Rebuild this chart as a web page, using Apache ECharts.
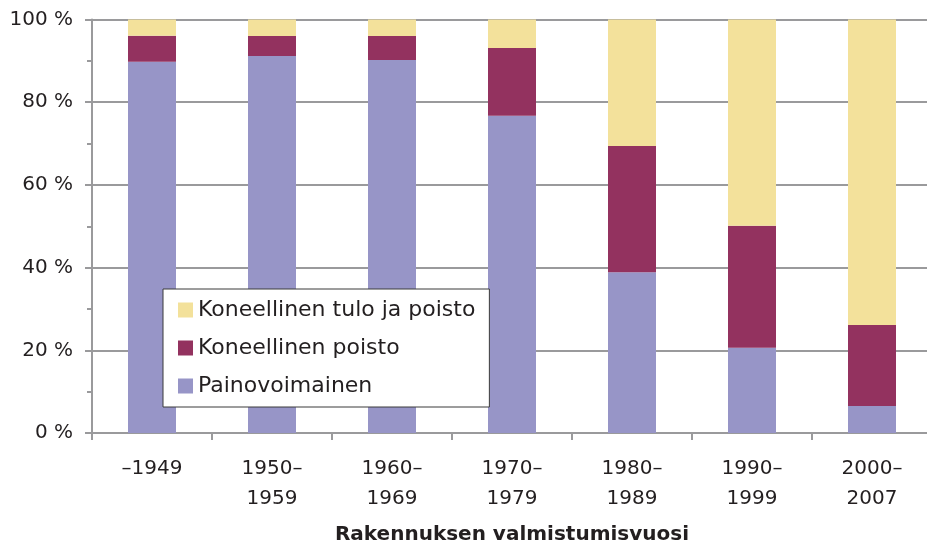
<!DOCTYPE html>
<html>
<head>
<meta charset="utf-8">
<script src="https://cdn.jsdelivr.net/npm/echarts@6/dist/echarts.min.js"></script>
<style>
  html, body { margin: 0; padding: 0; background: #fff; }
  #chart { width: 927px; height: 551px; }
</style>
</head>
<body>
<div id="chart"></div>
<script>
// rakennuksen valmistumisvuosi
const categories = ['–1949', '1950–\n1959', '1960–\n1969', '1970–\n1979', '1980–\n1989', '1990–\n1999', '2000–\n2007']

// osuudet (%), alhaalta ylös
const painovoimainen = [89.8, 91.2, 90.2, 76.7, 38.9, 20.6, 6.5]
const koneellinenPoisto = [6.3, 4.8, 5.8, 16.4, 30.5, 29.5, 19.6]
const koneellinenTuloPoisto = [3.9, 4.0, 4.0, 6.9, 30.6, 49.9, 73.9]

const seriesNames = ['Painovoimainen', 'Koneellinen poisto', 'Koneellinen tulo ja poisto']
const colors = ['#9795c7', '#93325f', '#f3e19b']

const font = '"DejaVu Sans", sans-serif'
const textColor = '#231f20'
const axisGray = '#9a9a9c'

const chart = echarts.init(document.getElementById('chart'))

const makeSeries = (name, data, color) => ({
  name: name,
  type: 'bar',
  stack: 'total',
  data: data,
  barWidth: '40%',
  itemStyle: { color: color },
  emphasis: { disabled: true }
})

chart.setOption({
  animation: false,
  textStyle: { fontFamily: font },
  // kuva on rajattu oikealta, joten ruudukko jatkuu reunan yli
  grid: { left: 92, width: 840, top: 19.5, bottom: 118, containLabel: false, outerBoundsMode: 'none' },
  legend: {
    orient: 'vertical',
    left: 163,
    top: 289,
    data: [seriesNames[2], seriesNames[1], seriesNames[0]],
    itemWidth: 15,
    itemHeight: 15,
    itemGap: 16,
    padding: [10, 14, 10, 15],
    backgroundColor: '#fff',
    borderColor: '#3a3a3a',
    borderWidth: 1,
    icon: 'rect',
    textStyle: { fontSize: 22, color: textColor, fontFamily: font, lineHeight: 22 }
  },
  xAxis: {
    type: 'category',
    data: categories,
    name: 'Rakennuksen valmistumisvuosi',
    nameLocation: 'middle',
    nameGap: 92,
    nameTextStyle: { fontSize: 20, fontWeight: 'bold', color: textColor, fontFamily: font },
    axisLine: { lineStyle: { color: axisGray, width: 2 } },
    axisTick: { show: true, length: 7, lineStyle: { color: axisGray, width: 2 } },
    axisLabel: {
      interval: 0,
      margin: 21,
      fontSize: 20,
      lineHeight: 30,
      color: textColor,
      fontFamily: font
    }
  },
  yAxis: {
    type: 'value',
    min: 0,
    max: 100,
    interval: 20,
    axisLine: { show: true, lineStyle: { color: axisGray, width: 2 } },
    axisTick: { show: true, length: 7, lineStyle: { color: axisGray, width: 2 } },
    minorTick: { show: true, splitNumber: 2, length: 5, lineStyle: { color: axisGray, width: 2 } },
    splitLine: { lineStyle: { color: axisGray, width: 2 } },
    axisLabel: {
      formatter: '{value} %',
      margin: 19,
      fontSize: 20,
      color: textColor,
      fontFamily: font
    }
  },
  series: [
    makeSeries(seriesNames[0], painovoimainen, colors[0]),
    makeSeries(seriesNames[1], koneellinenPoisto, colors[1]),
    makeSeries(seriesNames[2], koneellinenTuloPoisto, colors[2])
  ]
})
</script>
</body>
</html>
